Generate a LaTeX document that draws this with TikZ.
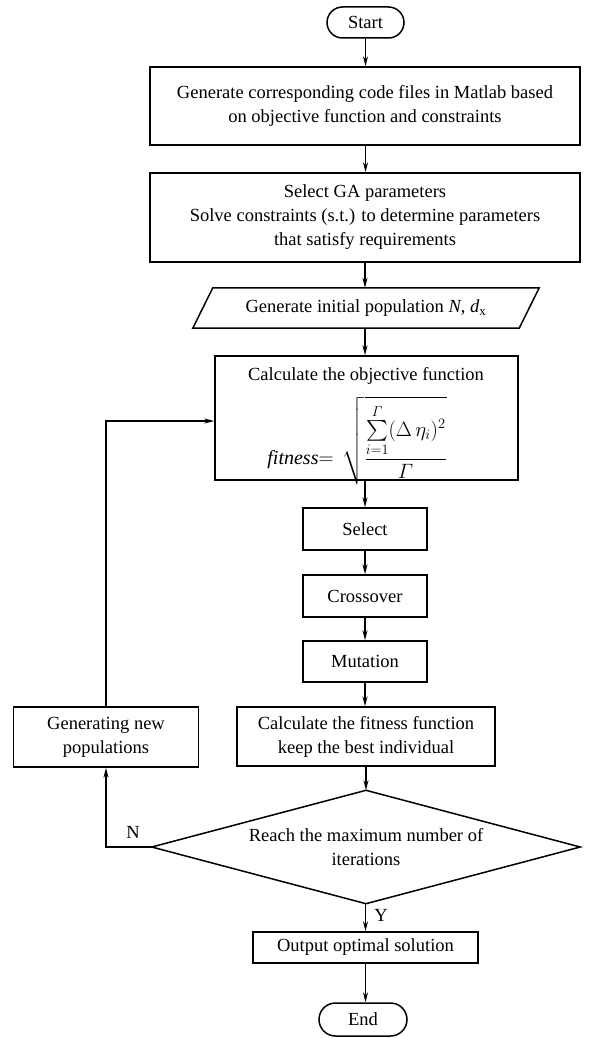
\documentclass[tikz,border=0pt]{standalone}
\usepackage{fontspec}
\setmainfont{Liberation Serif}
\usepackage{amsmath}
\usetikzlibrary{shapes.misc,arrows.meta}
\tikzset{
  box/.style={draw,line width=1.5pt,rectangle,inner sep=0pt,align=center,font=\fs},
  term/.style={draw,line width=1.5pt,rounded rectangle,inner sep=0pt,align=center,font=\fs},
  plain/.style={draw=none,rectangle,inner sep=0pt,align=center,font=\fs},
  arr/.style={line width=1.4pt,-{Stealth[length=10pt,width=5pt]}},
  ln/.style={line width=1.5pt}
}
\newcommand{\fs}{\fontsize{18.5}{24}\selectfont}
\begin{document}
\begin{tikzpicture}[x=1pt,y=-1pt]
\useasboundingbox (0,0) rectangle (596,1038);
\node[term,minimum width=77pt,minimum height=31pt] (start) at (365.5,22.5) {Start};
\node[box,minimum width=430pt,minimum height=78pt] (b1) at (365,106) {Generate corresponding code files in Matlab based\\on objective function and constraints};
\node[box,minimum width=430pt,minimum height=89pt] (b2) at (365,217.5) {Select GA parameters\\Solve constraints (s.t.) to determine parameters\\that satisfy requirements};
\node[plain,minimum width=326pt,minimum height=40pt] (para) at (366,308) {Generate initial population \textit{N}, \textit{d}\textsubscript{x}};
\draw[ln] ([xshift=10pt]para.north west) -- ([xshift=10pt]para.north east) -- ([xshift=-10pt]para.south east) -- ([xshift=-10pt]para.south west) -- cycle;
\node[box,minimum width=303pt,minimum height=124pt] (obj) at (366.5,418) {};
\node[plain] (objt) at (366,376) {Calculate the objective function};
\node[plain,font=\fontsize{20}{24}\selectfont] (objf) at (360,440.5) {\textit{fitness}$=\,\sqrt{\dfrac{\sum\limits_{i=1}^{\varGamma}(\Delta\,\eta_i)^2}{\varGamma}}\;$};
\node[box,minimum width=124pt,minimum height=42pt] (sel) at (365,529) {Select};
\node[box,minimum width=124pt,minimum height=42pt] (cro) at (365,596) {Crossover};
\node[box,minimum width=124pt,minimum height=41pt] (mut) at (365,661.5) {Mutation};
\node[box,minimum width=258pt,minimum height=59pt] (fit) at (366,736.5) {Calculate the fitness function\\keep the best individual};
\node[box,minimum width=185pt,minimum height=60pt] (gen) at (106,737) {Generating new\\populations};
\node[plain,minimum width=428pt,minimum height=113pt] (dia) at (366,847) {Reach the maximum number of\\iterations};
\draw[ln] (dia.north) -- (dia.east) -- (dia.south) -- (dia.west) -- cycle;
\node[box,minimum width=225pt,minimum height=31pt] (out) at (365.5,947.5) {Output optimal solution};
\node[term,minimum width=88pt,minimum height=33pt] (end) at (363,1019.5) {End};
\node[plain] (lN) at (133,832) {N};
\node[plain] (lY) at (381,915) {Y};
\draw[arr] (start.south) -- (start.south |- b1.north);
\draw[arr] (b1.south -| start.south) -- (start.south |- b2.north);
\draw[arr] (b2.south) -- (b2.south |- para.north);
\draw[arr] (para.south -| b2.south) -- (b2.south |- obj.north);
\draw[arr] (obj.south -| sel.north) -- (sel.north);
\draw[arr] (sel.south) -- (cro.north);
\draw[arr] (cro.south) -- (mut.north);
\draw[arr] (mut.south) -- (mut.south |- fit.north);
\draw[arr] (fit.south -| dia.north) -- (dia.north);
\draw[arr] (dia.south -| out.north) -- (out.north);
\draw[arr] (out.south) -- (out.south |- end.north);
\draw[arr] (dia.west) -| (gen.south);
\draw[arr] (gen.north) |- ([yshift=-3pt]obj.west);
\end{tikzpicture}
\end{document}
